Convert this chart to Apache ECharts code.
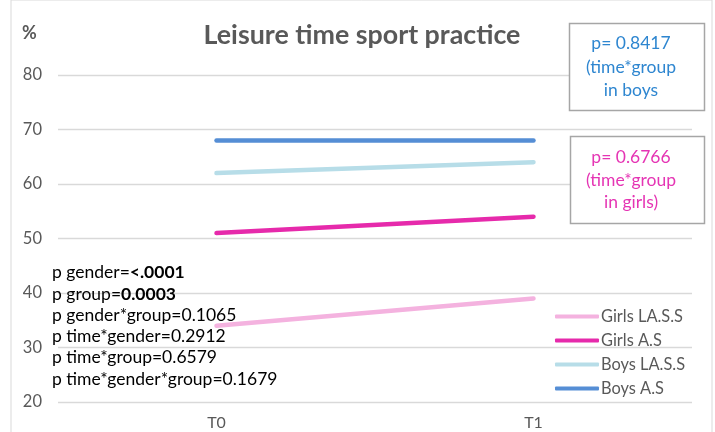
<!DOCTYPE html>
<html>
<head>
<meta charset="utf-8">
<script src="https://cdn.jsdelivr.net/npm/echarts@6/dist/echarts.min.js"></script>
<style>
  html, body { margin: 0; padding: 0; background: #fff; }
  #chart { width: 715px; height: 432px; }
</style>
</head>
<body>
<div id="chart"></div>
<script>
// Time points and group percentages
const timePoints = ['T0', 'T1'];
const girlsLASS = [34, 39];
const girlsAS = [51, 54];
const boysLASS = [62, 64];
const boysAS = [68, 68];

const seriesNames = ['Girls LA.S.S', 'Girls A.S', 'Boys LA.S.S', 'Boys A.S'];
const seriesColors = ['#F4B2DF', '#E62AAB', '#B7DDE8', '#558ED5'];

// Y axis range and step
const yMin = 20, yMax = 80, yStep = 10;

// Statistical test results
const pLines = [
  ['p gender=', '<.0001', true],
  ['p group=', '0.0003', true],
  ['p gender*group=0.1065', '', false],
  ['p time*gender=0.2912', '', false],
  ['p time*group=0.6579', '', false],
  ['p time*gender*group=0.1679', '', false]
];
const boysNote = 'p= 0.8417\n(time*group\nin boys';
const girlsNote = 'p= 0.6766\n(time*group\nin girls)';

const FONT = 'Lato';
const chart = echarts.init(document.getElementById('chart'));

const allValues = [girlsLASS, girlsAS, boysLASS, boysAS];
const series = seriesNames.map((name, i) => ({
  name: name,
  type: 'line',
  data: allValues[i],
  symbol: 'none',
  z: 3,
  lineStyle: { color: seriesColors[i], width: 4.5, cap: 'round' },
  itemStyle: { color: seriesColors[i] }
}));

const pText = pLines.map(l => l[2] ? l[0] + '{b|' + l[1] + '}' : l[0]).join('\n');

chart.setOption({
  animation: false,
  backgroundColor: '#fff',
  title: {
    text: 'Leisure time sport practice',
    left: 357, top: 17, textAlign: 'center',
    textStyle: { fontFamily: FONT, fontSize: 26.8, fontWeight: 'bold', color: '#595959' }
  },
  grid: { left: 58, right: 23, top: 75, bottom: 30 },
  xAxis: {
    type: 'category',
    data: timePoints,
    boundaryGap: true,
    axisLine: { show: false },
    axisTick: { show: false },
    axisLabel: { fontFamily: FONT, fontSize: 16, color: '#595959', margin: 13 }
  },
  yAxis: {
    type: 'value',
    min: yMin, max: yMax, interval: yStep,
    axisLine: { show: false },
    axisTick: { show: false },
    splitLine: { lineStyle: { color: '#d9d9d9', width: 1.3 } },
    axisLabel: { fontFamily: FONT, fontSize: 16.5, color: '#595959', margin: 16 }
  },
  legend: {
    orient: 'vertical',
    left: 550, top: 303,
    icon: 'roundRect',
    itemWidth: 44, itemHeight: 4, itemGap: 7,
    data: seriesNames,
    textStyle: { fontFamily: FONT, fontSize: 16.4, lineHeight: 17, color: '#595959', padding: [0, 0, 0, -3] }
  },
  graphic: [
    { type: 'rect', shape: { x: 11, y: 0, width: 701, height: 440 }, style: { fill: 'none', stroke: '#d9d9d9', lineWidth: 1 }, silent: true, z: 0 },
    { type: 'text', left: 22, top: 24, style: { text: '%', fontFamily: FONT, fontSize: 18, fontWeight: 'bold', fill: '#595959' } },
    { type: 'rect', shape: { x: 569.5, y: 23.5, width: 135, height: 87 }, style: { fill: '#fff', stroke: '#a6a6a6', lineWidth: 1.5 }, z: 5 },
    { type: 'text', x: 631, y: 67, z: 6, style: { text: boysNote, textAlign: 'center', textVerticalAlign: 'middle', fontFamily: FONT, fontSize: 17.5, lineHeight: 23.5, fill: '#2E86D0' } },
    { type: 'rect', shape: { x: 570.5, y: 136.5, width: 134, height: 87 }, style: { fill: '#fff', stroke: '#a6a6a6', lineWidth: 1.5 }, z: 5 },
    { type: 'text', x: 631, y: 180, z: 6, style: { text: girlsNote, textAlign: 'center', textVerticalAlign: 'middle', fontFamily: FONT, fontSize: 17.5, lineHeight: 22.5, fill: '#E535B4' } },
    { type: 'text', left: 52, top: 262, z: 2, style: {
        text: pText, fontFamily: FONT, fontSize: 17.5, lineHeight: 21.3, fill: '#000',
        rich: { b: { fontFamily: FONT, fontSize: 17.5, fontWeight: 'bold', fill: '#000', lineHeight: 21.3 } }
      } }
  ],
  series: series
});
</script>
</body>
</html>
